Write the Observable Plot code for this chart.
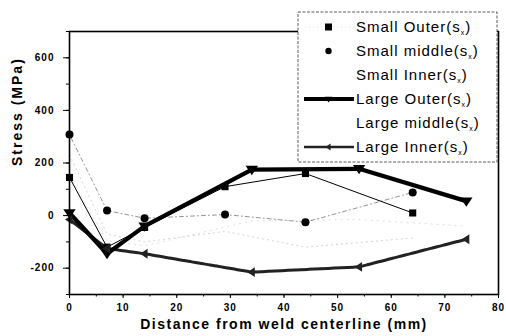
<!DOCTYPE html>
<html>
<head>
<meta charset="utf-8">
<script src="https://cdn.jsdelivr.net/npm/d3@7"></script>
<script src="https://cdn.jsdelivr.net/npm/@observablehq/plot@0.6"></script>
<style>
  html, body { margin: 0; padding: 0; background: #fff; }
  #chart { position: relative; width: 506px; height: 336px; }
</style>
</head>
<body>
<div id="chart"></div>
<script>
// ---- data ----
const xSmall = [0, 7, 14, 29, 44, 64];
const xLarge = [0, 7, 14, 34, 54, 74];
const smallOuter  = [145, -120, -45, 110, 160, 10];
const smallMiddle = [308, 19, -10, 4, -25, 88];
const smallInner  = [230, -70, -100, -60, -120, -85];
const largeOuter  = [10, -145, -40, 175, 178, 55];
const largeMiddle = [150, -95, -115, -20, -15, -40];
const largeInner  = [-15, -125, -145, -215, -195, -90];
const seriesNames = ["Small Outer", "Small middle", "Small Inner", "Large Outer", "Large middle", "Large Inner"];
const xTicks = [0, 10, 20, 30, 40, 50, 60, 70, 80];
const yTicks = [-200, 0, 200, 400, 600];

const pts = (xs, ys) => xs.map((x, i) => ({x, y: ys[i]}));
const dSO = pts(xSmall, smallOuter), dSM = pts(xSmall, smallMiddle), dSI = pts(xSmall, smallInner);
const dLO = pts(xLarge, largeOuter), dLM = pts(xLarge, largeMiddle), dLI = pts(xLarge, largeInner);

const triDown = { draw(ctx, size) { const r = Math.sqrt(size) * 0.7;
  ctx.moveTo(-r, -r * 0.6); ctx.lineTo(r, -r * 0.6); ctx.lineTo(0, r * 0.9); ctx.closePath(); } };
const triLeft = { draw(ctx, size) { const r = Math.sqrt(size) * 0.7;
  ctx.moveTo(-r * 0.9, 0); ctx.lineTo(r * 0.6, -r); ctx.lineTo(r * 0.6, r); ctx.closePath(); } };

const font = "'Liberation Sans', Arial, sans-serif";

const plot = Plot.plot({
  width: 506, height: 336,
  marginLeft: 69, marginRight: 8, marginTop: 31, marginBottom: 42,
  style: { fontFamily: font, background: "#fff", color: "#000" },
  x: { domain: [0, 80], ticks: xTicks, label: null },
  y: { domain: [-300, 700], ticks: yTicks, label: null },
  marks: [
    Plot.line(dSI, { x: "x", y: "y", stroke: "#c4c4c4", strokeWidth: 0.8, strokeDasharray: "1,4" }),
    Plot.line(dLM, { x: "x", y: "y", stroke: "#d0d0d0", strokeWidth: 0.8, strokeDasharray: "1,5" }),
    Plot.line(dSM, { x: "x", y: "y", stroke: "#888", strokeWidth: 0.9, strokeDasharray: "1,3,4,3" }),
    Plot.line(dSO, { x: "x", y: "y", stroke: "#000", strokeWidth: 1 }),
    Plot.line(dLI, { x: "x", y: "y", stroke: "#222", strokeWidth: 3, strokeDasharray: "6,0.6" }),
    Plot.line(dLO, { x: "x", y: "y", stroke: "#000", strokeWidth: 4.2 }),
    Plot.dot(dSO, { x: "x", y: "y", symbol: "square", r: 4, fill: "#000" }),
    Plot.dot(dSM, { x: "x", y: "y", symbol: "circle", r: 4, fill: "#000" }),
    Plot.dot(dLO, { x: "x", y: "y", symbol: triDown, r: 5, fill: "#000" }),
    Plot.dot(dLI, { x: "x", y: "y", symbol: triLeft, r: 4, fill: "#222" }),
    Plot.axisX({ ticks: xTicks, tickSize: 4, tickPadding: 5, fontSize: 10, fontWeight: "bold", label: null, tickFormat: d => String(d) }),
    Plot.axisY({ ticks: yTicks, tickSize: 6, tickPadding: 9, fontSize: 10, fontWeight: "bold", label: null, tickFormat: d => String(d) }),
    Plot.axisY({ ticks: d3.range(-300, 701, 100), tickSize: 3, text: null, label: null }),
    Plot.axisX({ ticks: d3.range(0, 81, 5), tickSize: 2.5, text: null, label: null }),
    Plot.frame({ stroke: "#000", strokeWidth: 1.6 }),
    Plot.text(["Distance from weld centerline (mm)"], { frameAnchor: "bottom", dy: 34, fontSize: 14, fontWeight: "bold", text: d => d }),
    Plot.text(["Stress (MPa)"], { frameAnchor: "left", dx: -52, dy: 3, rotate: -90, fontSize: 14, fontWeight: "bold", text: d => d })
  ]
});
document.getElementById("chart").appendChild(plot);

// letter spacing like the scanned original
d3.select(plot).selectAll("text").attr("letter-spacing", 1);
d3.select(plot).selectAll("text").filter(function () { return /Distance/.test(this.textContent); }).attr("letter-spacing", 1.5);
d3.select(plot).selectAll("text").filter(function () { return /Stress/.test(this.textContent); }).attr("letter-spacing", 2);

// ---- legend (drawn on top, inside the svg) ----
const svg = d3.select(plot);
const lg = svg.append("g").attr("font-family", font).attr("text-anchor", "start");
lg.append("rect").attr("x", 298).attr("y", 12).attr("width", 199).attr("height", 150)
  .attr("fill", "#fff").attr("stroke", "#333").attr("stroke-width", 0.8).attr("stroke-dasharray", "3,1.5");
const rowY = [27, 51, 75, 99, 123, 147];
const sym = d3.symbol();
seriesNames.forEach((name, i) => {
  const y = rowY[i];
  const g = lg.append("g");
  if (i === 0) {
    g.append("line").attr("x1", 305).attr("x2", 354).attr("y1", y).attr("y2", y).attr("stroke", "#ccc").attr("stroke-width", 0.6).attr("stroke-dasharray", "1,3");
    g.append("rect").attr("x", 325).attr("y", y - 3.5).attr("width", 7).attr("height", 7).attr("fill", "#000");
  } else if (i === 1) {
    g.append("circle").attr("cx", 328.5).attr("cy", y).attr("r", 3.2).attr("fill", "#000");
  } else if (i === 3) {
    g.append("line").attr("x1", 304).attr("x2", 354).attr("y1", y).attr("y2", y).attr("stroke", "#000").attr("stroke-width", 4);
    g.append("path").attr("transform", `translate(328.5,${y})`).attr("d", sym.type(triDown).size(30)()).attr("fill", "#000");
  } else if (i === 5) {
    g.append("line").attr("x1", 304).attr("x2", 354).attr("y1", y).attr("y2", y).attr("stroke", "#222").attr("stroke-width", 2.5);
    g.append("path").attr("transform", `translate(328.5,${y})`).attr("d", sym.type(triLeft).size(24)()).attr("fill", "#222");
  }
  const t = g.append("text").attr("x", 356).attr("y", y + 5).attr("font-size", 15).attr("fill", "#000")
    .attr("text-anchor", "start").attr("letter-spacing", 1);
  t.append("tspan").text(name + "(s");
  t.append("tspan").attr("font-size", 7).attr("dy", 3).text("x");
  t.append("tspan").attr("dy", -3).text(")");
});
</script>
</body>
</html>
